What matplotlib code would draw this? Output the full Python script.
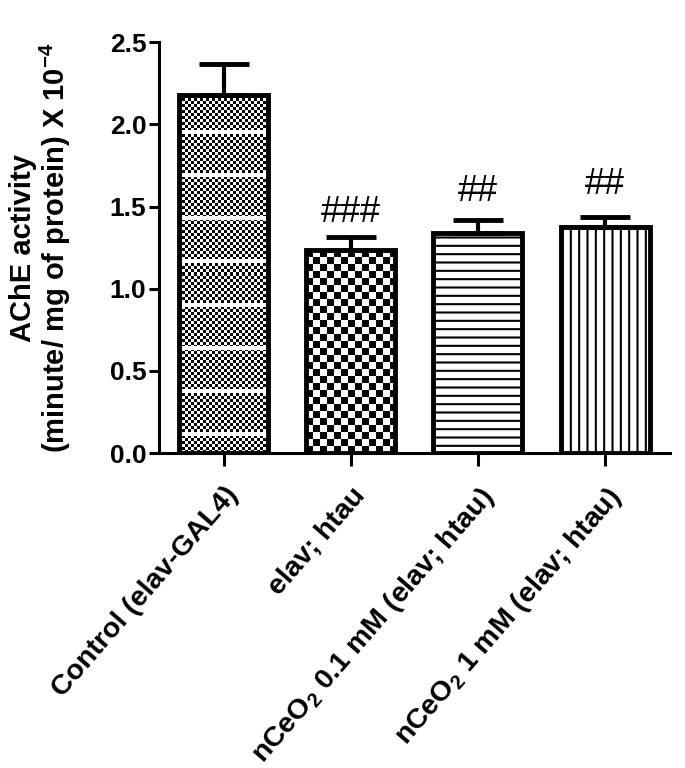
import numpy as np
import matplotlib
matplotlib.use("Agg")
import matplotlib.pyplot as plt

# ---- data ----
categories = ["Control (elav-GAL4)", "elav; htau",
              "nCeO$_2$ 0.1 mM (elav; htau)", "nCeO$_2$ 1 mM (elav; htau)"]
means = [2.18, 1.235, 1.338, 1.375]
sems = [0.19, 0.08, 0.08, 0.06]
sig_labels = ["", "###", "##", "##"]
yticks = [0.0, 0.5, 1.0, 1.5, 2.0, 2.5]

# style: offset of the significance marks above the error caps (points)
sig_offsets = [0, 11, 14, 17]

plt.rcParams['font.family'] = ['Liberation Sans', 'DejaVu Sans']
plt.rcParams['mathtext.fontset'] = 'custom'
plt.rcParams['mathtext.rm'] = 'Liberation Sans:bold'
plt.rcParams['mathtext.it'] = 'Liberation Sans:bold'
plt.rcParams['mathtext.bf'] = 'Liberation Sans:bold'
plt.rcParams['hatch.linewidth'] = 1.5

fig = plt.figure(figsize=(6.85, 7.68), dpi=100)
ax = fig.add_axes([0.232, 0.410, 0.746, 0.535])

x = np.arange(len(categories))
hatches = [None, None, '--', '||']
bars = ax.bar(x, means, width=0.7, facecolor='white', edgecolor='black',
              linewidth=3.5, zorder=3)
for b, h in zip(bars, hatches):
    if h:
        b.set_hatch(h)
    else:
        b.set_facecolor('none')

ax.set_xlim(-0.51, len(categories) - 0.49)
ax.set_ylim(0, 2.5)


def pattern_image(bar, cell, stripe_period=None, stripe_h=0, stripe_phase=0):
    x0, y0 = ax.transData.transform((bar.get_x(), 0))
    x1, y1 = ax.transData.transform((bar.get_x() + bar.get_width(), bar.get_height()))
    w = int(round(x1 - x0))
    h = int(round(y1 - y0))
    yy, xx = np.mgrid[0:h, 0:w]
    img = ((xx // cell + yy // cell) % 2).astype(float)
    if stripe_period:
        img[((yy - stripe_phase) % stripe_period) < stripe_h] = 1.0
    im = ax.imshow(img, cmap='gray', vmin=0, vmax=1, origin='lower',
                   extent=(bar.get_x(), bar.get_x() + bar.get_width(), 0, bar.get_height()),
                   interpolation='nearest', aspect='auto', zorder=2)
    im.set_clip_path(bar)


pattern_image(bars[0], 3, stripe_period=43, stripe_h=4, stripe_phase=17)
pattern_image(bars[1], 7)

ax.errorbar(x, means, yerr=[np.zeros(len(means)), sems], fmt='none',
            ecolor='black', elinewidth=3, capsize=18, capthick=3.5, zorder=4)

for xi, m, s, lab, off in zip(x, means, sems, sig_labels, sig_offsets):
    if lab:
        ax.annotate(lab, xy=(xi, m + s), xytext=(0, off), textcoords='offset points',
                    ha='center', va='baseline', fontsize=26, fontweight='normal',
                    color='black')

ax.set_xlim(-0.51, len(categories) - 0.49)
ax.set_ylim(0, 2.5)
ax.set_yticks(yticks)
ax.set_yticklabels([f"{v:.1f}" for v in yticks], fontsize=19, fontweight='bold')
ax.set_xticks(x)
ax.set_xticklabels(categories, rotation=49, ha='right', va='top',
                   rotation_mode='anchor', fontsize=20.5, fontweight='bold')

for s in ['top', 'right']:
    ax.spines[s].set_visible(False)
for s in ['left', 'bottom']:
    ax.spines[s].set_linewidth(2.2)
ax.tick_params(axis='y', length=7, width=2.2, pad=2)
ax.tick_params(axis='x', length=9, width=2.2, pad=12)

ax.set_ylabel("AChE activity\n(minute/ mg of protein) X 10$^{-4}$",
              fontsize=21, fontweight='bold', linespacing=1.05)
ax.yaxis.set_label_coords(-0.168, 0.5)

fig.savefig("out.png", dpi=100)
